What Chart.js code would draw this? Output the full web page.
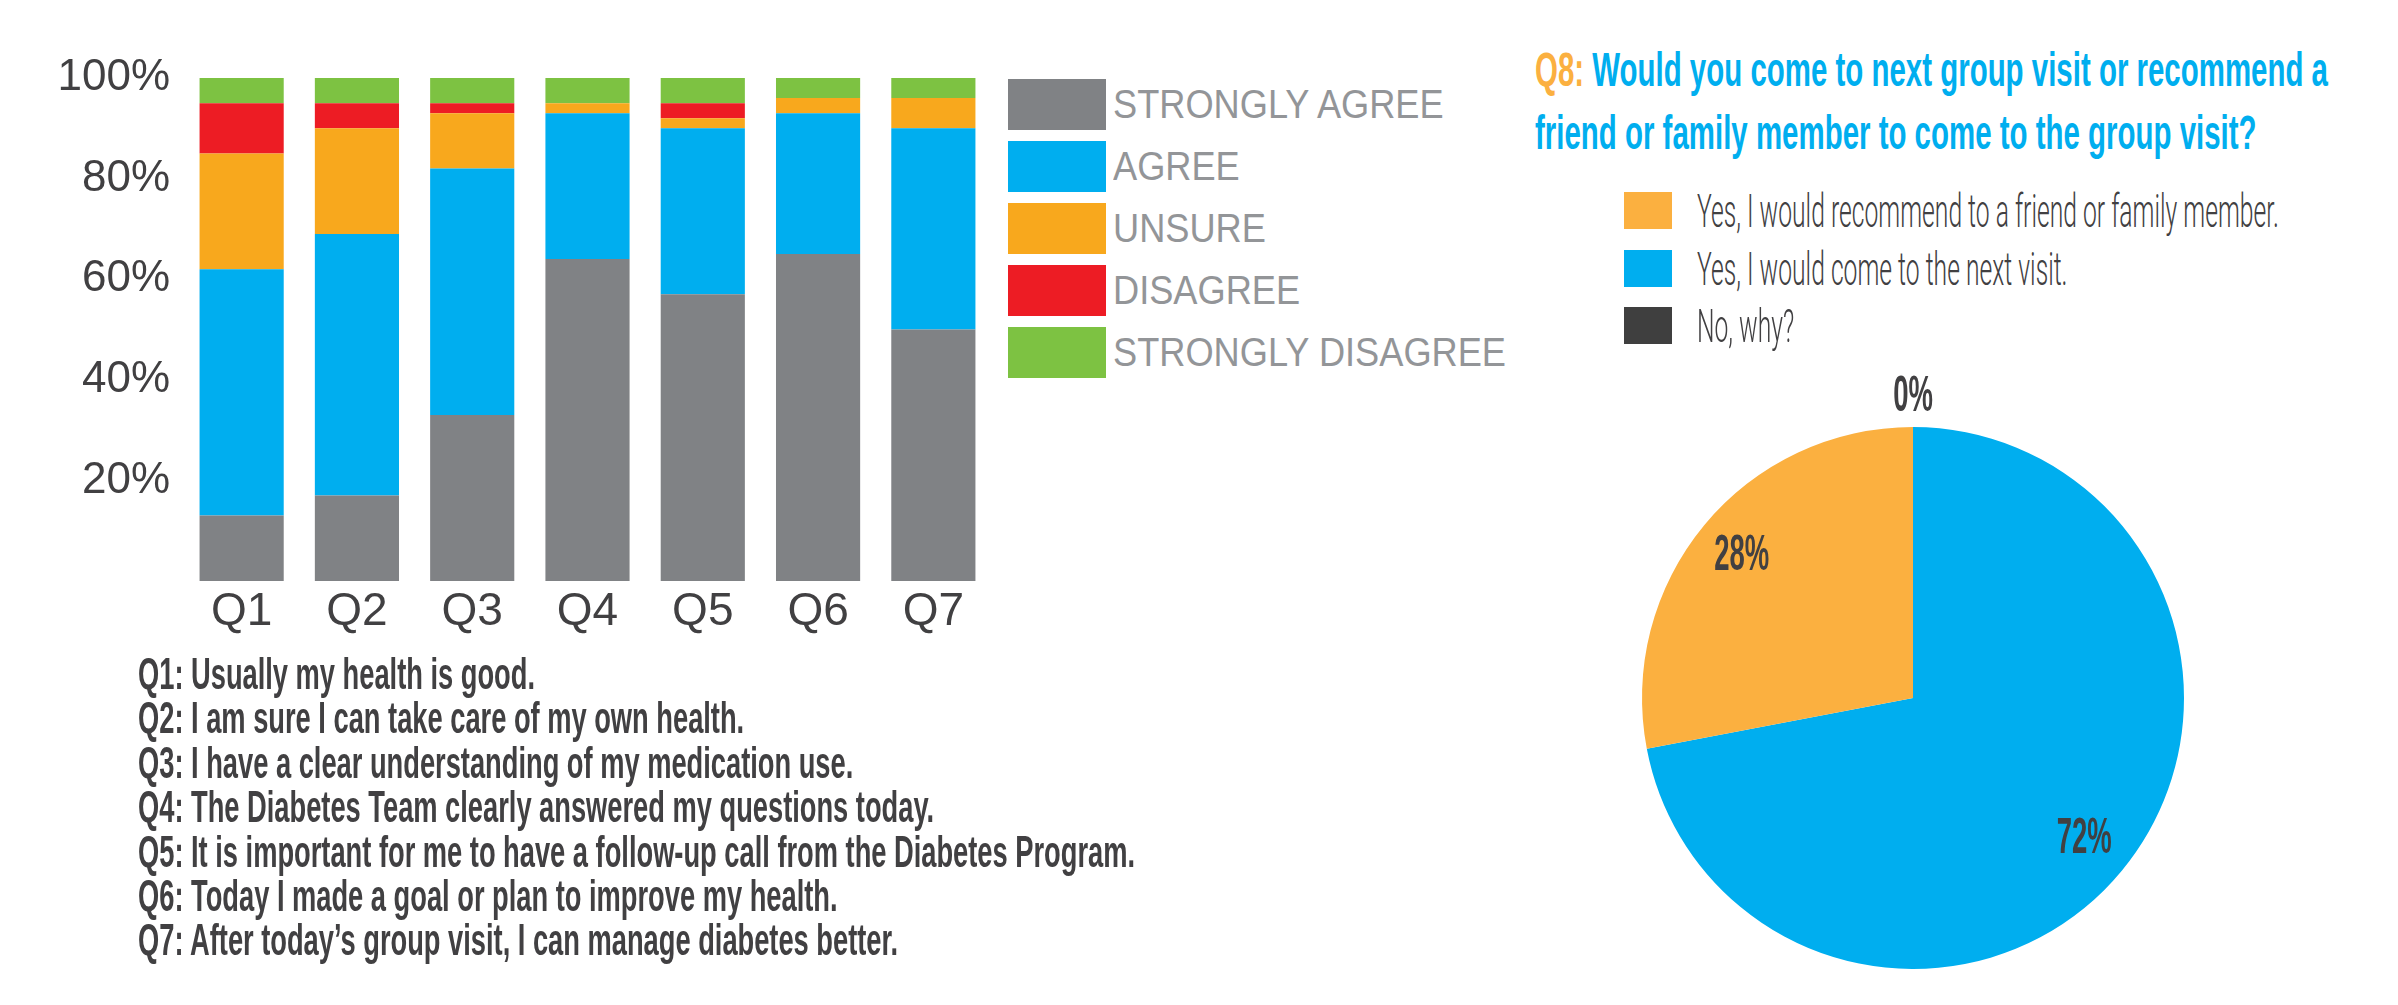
<!DOCTYPE html>
<html>
<head>
<meta charset="utf-8">
<script src="https://cdn.jsdelivr.net/npm/chart.js@4.4.1/dist/chart.umd.min.js"></script>
<style>
  html, body { margin: 0; padding: 0; background: #fff; }
  body { width: 2398px; height: 1005px; position: relative; overflow: hidden; font-family: 'Liberation Sans', Arial, sans-serif; }
  .abs { position: absolute; }
  .fit { display: inline-block; white-space: nowrap; transform-origin: 0 50%; }
  #barCanvas { position: absolute; left: 0; top: 0; }
  #pieCanvas { position: absolute; left: 1563px; top: 348px; }
  .lrow { position: absolute; display: flex; align-items: center; }
  .barLegend .lrow { left: 1008px; height: 51px; }
  .barLegend .box { width: 98px; height: 51px; margin-right: 7px; flex: none; }
  .barLegend .fit { font-size: 40px; color: #939598; }
  .pieLegend .lrow { left: 1624px; height: 37px; }
  .pieLegend .box { width: 48px; height: 37px; margin-right: 25px; flex: none; }
  .pieLegend .fit { font-family: Roboto, 'Liberation Sans', sans-serif; font-weight: 300; font-size: 46px; color: #414042; }
  .title .fit { font-family: 'Liberation Sans Narrow', 'Liberation Sans', Arial, sans-serif; font-weight: bold; font-size: 49px; line-height: 49px; color: #00aeef; }
  .questions { left: 138px; top: 652px; }
  .questions .fit { display: block; width: max-content; font-family: 'Liberation Sans Narrow', 'Liberation Sans', Arial, sans-serif; font-weight: bold; font-size: 45px; line-height: 44.4px; color: #414042; }
</style>
</head>
<body>
<canvas id="barCanvas" width="1000" height="650"></canvas>
<canvas id="pieCanvas" width="700" height="700"></canvas>
<div class="barLegend" id="barLegend"></div>
<div class="title">
  <div class="abs" style="left:1535px; top:45px;"><span class="fit" id="title1"><span style="color:#fbb040">Q8:</span> Would you come to next group visit or recommend a</span></div>
  <div class="abs" style="left:1535px; top:108px;"><span class="fit" id="title2">friend or family member to come to the group visit?</span></div>
</div>
<div class="pieLegend" id="pieLegend"></div>
<div class="abs questions" id="questions"></div>
<script>
'use strict';

// bar chart data (percent of answers)
const categories = ['Q1', 'Q2', 'Q3', 'Q4', 'Q5', 'Q6', 'Q7'];
const stronglyAgree = [13, 17, 33, 64, 57, 65, 50];
const agree = [49, 52, 49, 29, 33, 28, 40];
const unsure = [23, 21, 11, 2, 2, 3, 6];
const disagree = [10, 5, 2, 0, 3, 0, 0];
const stronglyDisagree = [5, 5, 5, 5, 5, 4, 4];
const answerLabels = ['STRONGLY AGREE', 'AGREE', 'UNSURE', 'DISAGREE', 'STRONGLY DISAGREE'];
const yTicks = [0, 20, 40, 60, 80, 100];

const questions = [
  'Q1: Usually my health is good.',
  'Q2: I am sure I can take care of my own health.',
  'Q3: I have a clear understanding of my medication use.',
  'Q4: The Diabetes Team clearly answered my questions today.',
  'Q5: It is important for me to have a follow-up call from the Diabetes Program.',
  'Q6: Today I made a goal or plan to improve my health.',
  'Q7: After today\u2019s group visit, I can manage diabetes better.'
];

// Q8 pie (drawn clockwise from the top)
const pieLabels = ['Yes, I would come to the next visit.', 'Yes, I would recommend to a friend or family member.', 'No, why?'];
const pieValues = [72, 28, 0];
const pieLegendOrder = [1, 0, 2];

const barColors = ['#808285', '#00aeef', '#f8a81d', '#ed1c24', '#7dc242'];
const pieColors = ['#00aeef', '#fbb040', '#3f3f3f'];
const textDark = '#414042';

function fitGroup(els, refEl, width) {
  const k = width / refEl.getBoundingClientRect().width;
  els.forEach(el => { el.style.transform = 'scaleX(' + k + ')'; });
}

// legends and question list
let legendTops = [79, 141, 203, 265, 327];
let barLegend = document.getElementById('barLegend');
let barLegendTexts = [];
answerLabels.forEach((name, i) => {
  let row = document.createElement('div');
  row.className = 'lrow';
  row.style.top = legendTops[i] + 'px';
  row.innerHTML = '<div class="box" style="background:' + barColors[i] + '"></div><span class="fit">' + name + '</span>';
  barLegend.appendChild(row);
  barLegendTexts.push(row.querySelector('.fit'));
});

let pieTops = [192, 250, 307];
let pieLegend = document.getElementById('pieLegend');
let pieLegendTexts = [];
pieLegendOrder.forEach((idx, i) => {
  let row = document.createElement('div');
  row.className = 'lrow';
  row.style.top = pieTops[i] + 'px';
  row.innerHTML = '<div class="box" style="background:' + pieColors[idx] + '"></div><span class="fit">' + pieLabels[idx] + '</span>';
  pieLegend.appendChild(row);
  pieLegendTexts.push(row.querySelector('.fit'));
});

let qBox = document.getElementById('questions');
let qTexts = questions.map(q => {
  let el = document.createElement('span');
  el.className = 'fit';
  el.textContent = q;
  qBox.appendChild(el);
  return el;
});

fitGroup(barLegendTexts, barLegendTexts[4], 393);
fitGroup(pieLegendTexts, pieLegendTexts[0], 582);
fitGroup(qTexts, qTexts[4], 997);
let t1 = document.getElementById('title1');
fitGroup([t1, document.getElementById('title2')], t1, 793);

// stacked bars
let barData = {
  labels: categories,
  datasets: [stronglyAgree, agree, unsure, disagree, stronglyDisagree].map((values, i) => ({
    label: answerLabels[i],
    data: values,
    backgroundColor: barColors[i],
    borderWidth: 0,
    barPercentage: 0.73,
    categoryPercentage: 1
  }))
};

new Chart(document.getElementById('barCanvas'), {
  type: 'bar',
  data: barData,
  options: {
    responsive: false,
    animation: false,
    layout: { padding: { top: 78, right: 9, left: 0, bottom: 0 } },
    plugins: { legend: { display: false }, tooltip: { enabled: false } },
    scales: {
      x: {
        stacked: true,
        grid: { display: false },
        border: { display: false },
        ticks: { padding: 0, color: textDark, font: { family: "'Liberation Sans', Arial, sans-serif", size: 46, lineHeight: 1 } },
        afterFit(scale) { scale.height = 69; }
      },
      y: {
        stacked: true,
        min: yTicks[0],
        max: yTicks[yTicks.length - 1],
        grid: { display: false },
        border: { display: false },
        afterBuildTicks(scale) { scale.ticks = yTicks.map(v => ({ value: v })); },
        ticks: {
          padding: 6,
          color: textDark,
          font: { family: "'Liberation Sans', Arial, sans-serif", size: 44 },
          callback: v => v === 0 ? '' : v + '%'
        },
        afterFit(scale) { scale.width = 184; }
      }
    }
  }
});

// percent labels on the pie
const pieLabelPlugin = {
  id: 'pieLabels',
  afterDatasetsDraw(chart) {
    let ctx = chart.ctx;
    let meta = chart.getDatasetMeta(0);
    ctx.save();
    ctx.font = "bold 50px 'Liberation Sans', Arial, sans-serif";
    ctx.fillStyle = textDark;
    ctx.textAlign = 'center';
    ctx.textBaseline = 'middle';
    meta.data.forEach((arc, i) => {
      let p = arc.getProps(['x', 'y', 'startAngle', 'endAngle', 'outerRadius'], true);
      let mid = (p.startAngle + p.endAngle) / 2;
      let r = pieValues[i] === 0 ? p.outerRadius + 30 : p.outerRadius * 0.82;
      ctx.save();
      ctx.translate(p.x + Math.cos(mid) * r, p.y + Math.sin(mid) * r);
      ctx.scale(0.55, 1);
      ctx.fillText(pieValues[i] + '%', 0, 0);
      ctx.restore();
    });
    ctx.restore();
  }
};

new Chart(document.getElementById('pieCanvas'), {
  type: 'pie',
  data: {
    labels: pieLabels,
    datasets: [{ data: pieValues, backgroundColor: pieColors, borderWidth: 0 }]
  },
  options: {
    responsive: false,
    animation: false,
    layout: { padding: 79 },
    plugins: { legend: { display: false }, tooltip: { enabled: false } }
  },
  plugins: [pieLabelPlugin]
});
</script>
</body>
</html>
